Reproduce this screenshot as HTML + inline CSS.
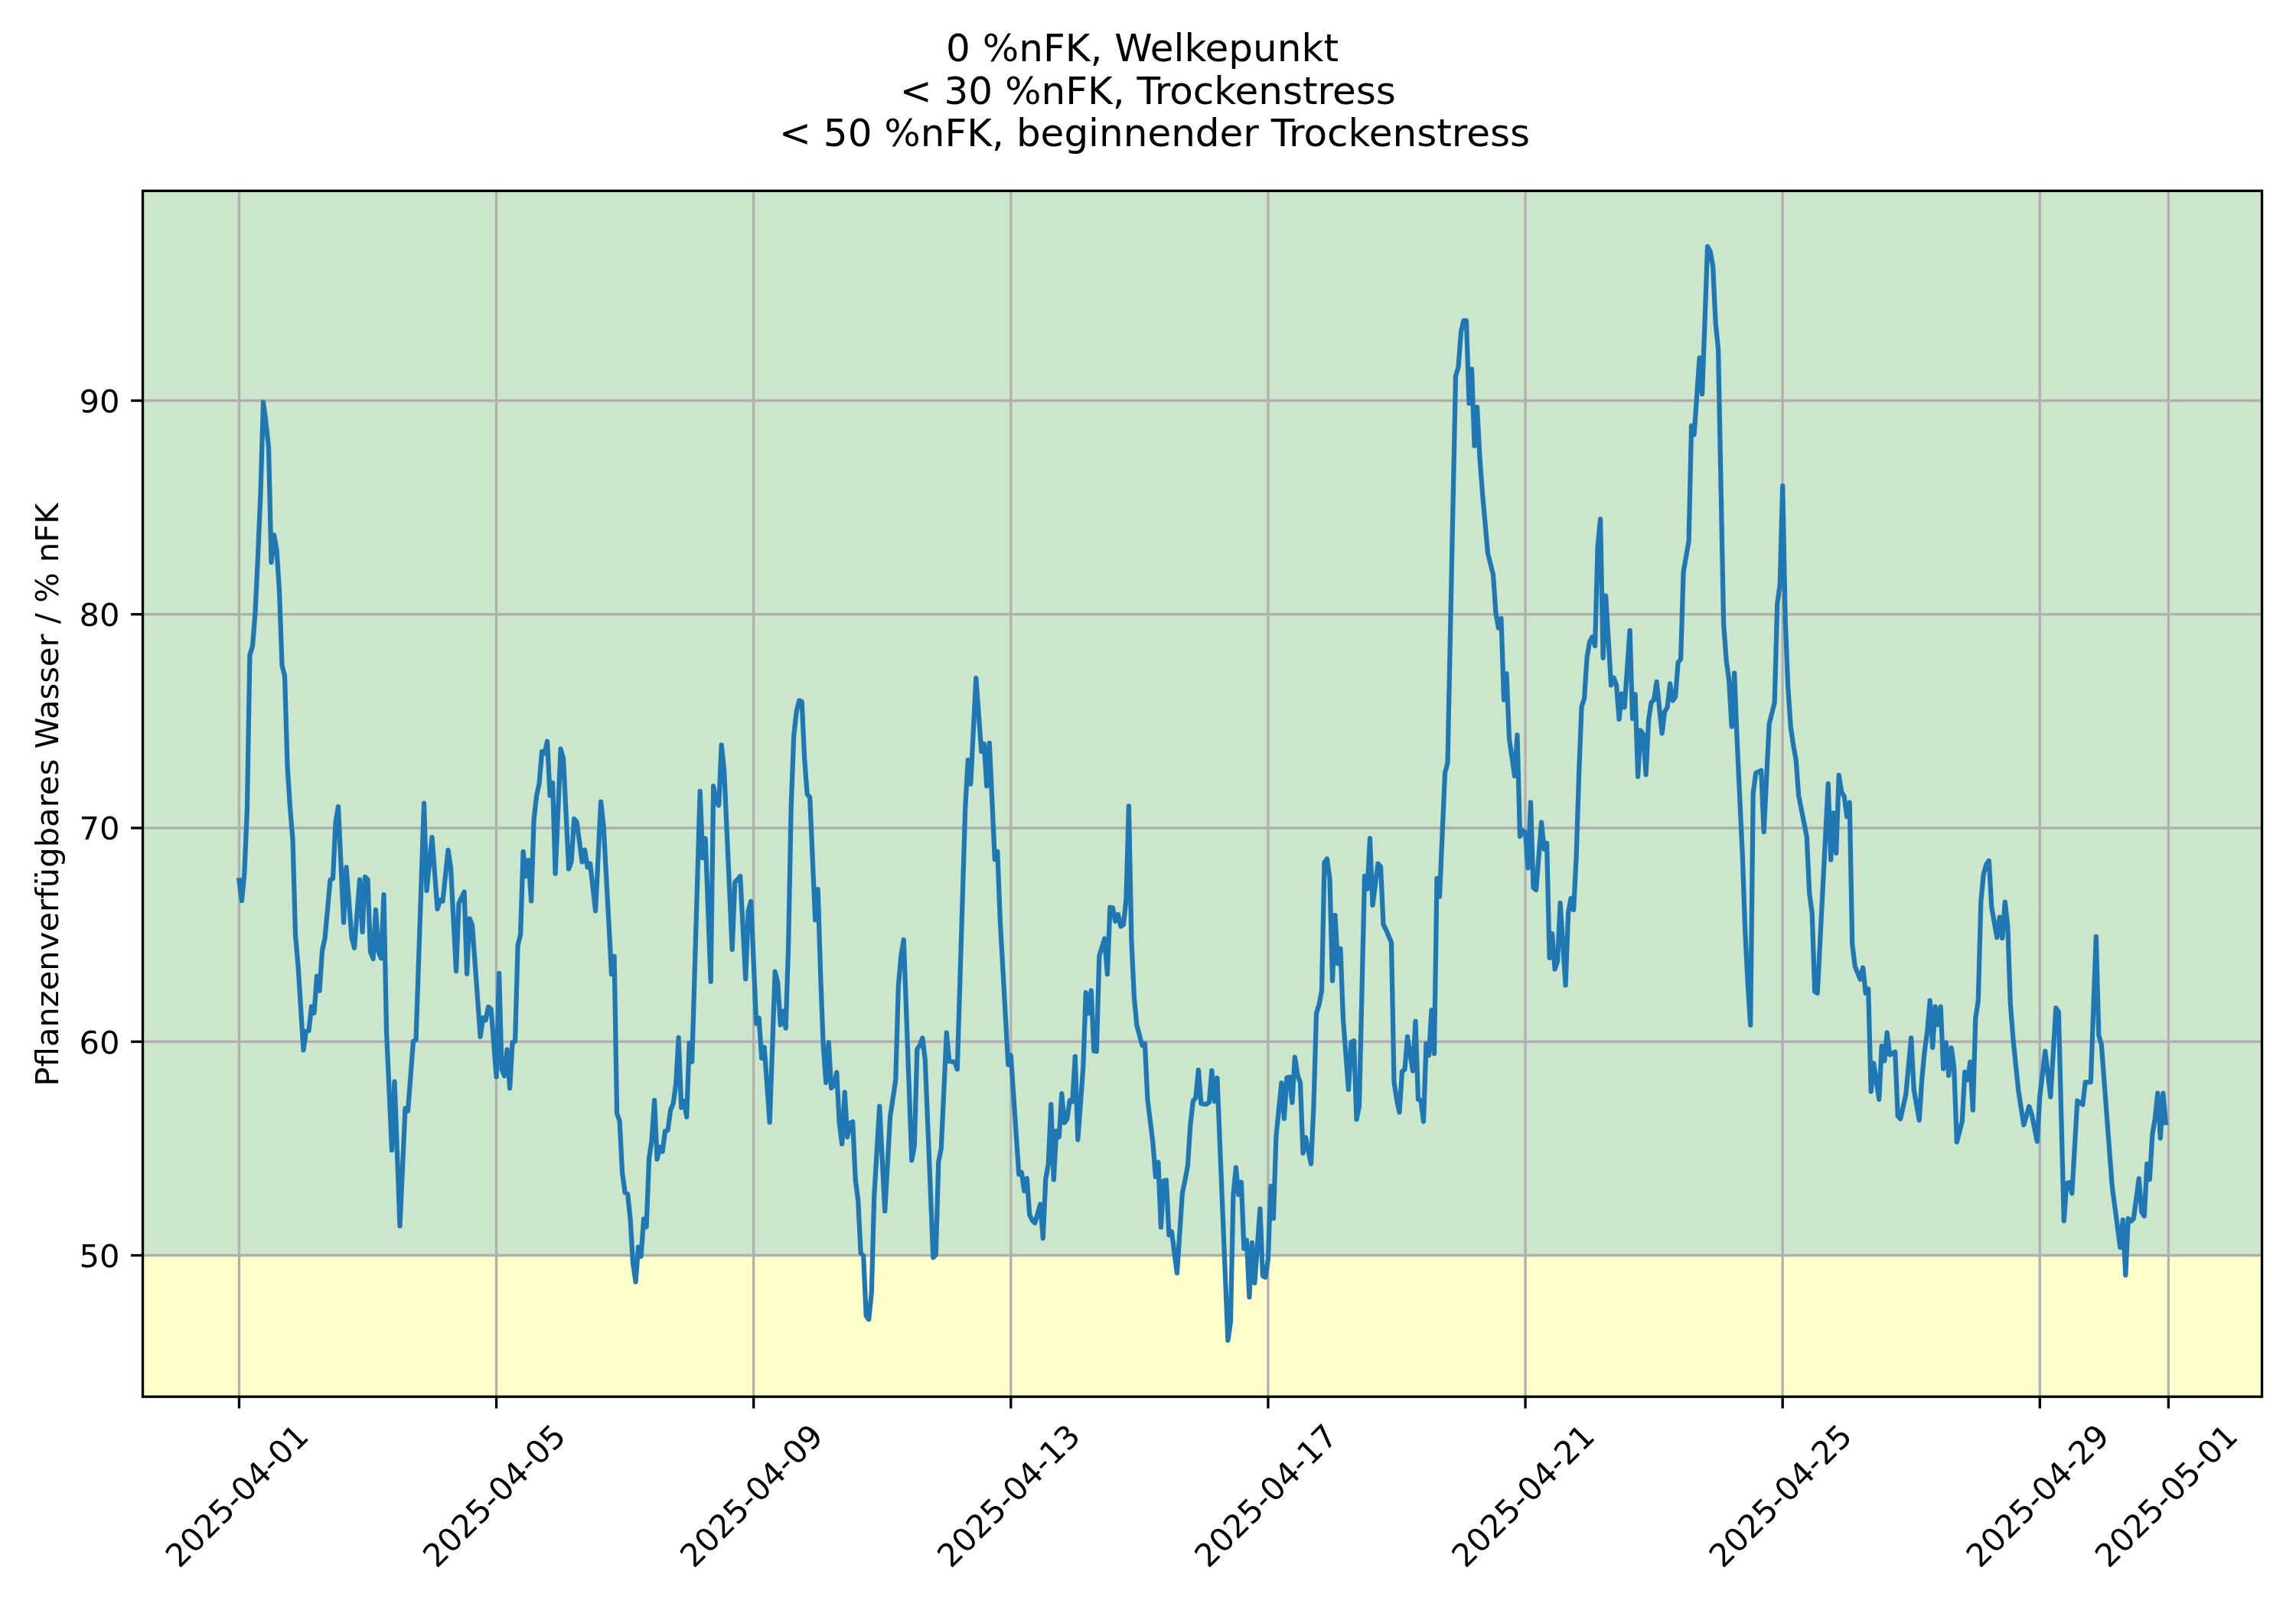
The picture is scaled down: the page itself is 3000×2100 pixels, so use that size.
<!DOCTYPE html>
<html lang="de"><head><meta charset="utf-8"><title>Pflanzenverfügbares Wasser</title>
<style>html,body{margin:0;padding:0;background:#fff;}body{width:3000px;height:2100px;overflow:hidden;}svg{display:block;will-change:transform;}text{font-family:'DejaVu Sans','Liberation Sans',sans-serif;fill:#000;}</style></head><body>
<svg width="3000" height="2100" viewBox="0 0 3000 2100">
<rect width="3000" height="2100" fill="#fff"/>
<rect x="186.50" y="249.40" width="2769.00" height="1391.10" fill="#cce6cc"/>
<rect x="186.50" y="1640.50" width="2769.00" height="184.70" fill="#ffffcc"/>
<g stroke="#b0b0b0" stroke-width="3.33" fill="none">
<line x1="312.45" y1="249.40" x2="312.45" y2="1825.20"/>
<line x1="648.57" y1="249.40" x2="648.57" y2="1825.20"/>
<line x1="984.69" y1="249.40" x2="984.69" y2="1825.20"/>
<line x1="1320.81" y1="249.40" x2="1320.81" y2="1825.20"/>
<line x1="1656.93" y1="249.40" x2="1656.93" y2="1825.20"/>
<line x1="1993.05" y1="249.40" x2="1993.05" y2="1825.20"/>
<line x1="2329.17" y1="249.40" x2="2329.17" y2="1825.20"/>
<line x1="2665.29" y1="249.40" x2="2665.29" y2="1825.20"/>
<line x1="2833.35" y1="249.40" x2="2833.35" y2="1825.20"/>
<line x1="186.50" y1="1640.50" x2="2955.50" y2="1640.50"/>
<line x1="186.50" y1="1361.25" x2="2955.50" y2="1361.25"/>
<line x1="186.50" y1="1082.00" x2="2955.50" y2="1082.00"/>
<line x1="186.50" y1="802.75" x2="2955.50" y2="802.75"/>
<line x1="186.50" y1="523.50" x2="2955.50" y2="523.50"/>
</g>
<clipPath id="c"><rect x="186.50" y="249.40" width="2769.00" height="1575.80"/></clipPath>
<path clip-path="url(#c)" d="M312.4 1150.2 L315.9 1177.0 L319.4 1141.0 L322.9 1058.0 L326.4 856.0 L330.0 844.5 L333.5 800.0 L337.0 727.0 L340.5 644.0 L344.0 525.5 L347.5 552.0 L351.0 585.0 L354.5 735.0 L358.0 699.0 L361.5 718.0 L365.0 772.0 L368.5 869.5 L372.0 883.0 L375.5 1001.0 L379.0 1055.0 L382.5 1097.0 L386.0 1221.5 L389.5 1262.0 L396.5 1372.4 L400.0 1347.6 L403.5 1346.9 L407.0 1315.4 L410.5 1323.8 L414.0 1275.7 L417.5 1294.8 L421.0 1242.2 L424.5 1226.5 L431.5 1149.8 L435.0 1148.1 L438.5 1074.9 L442.0 1054.0 L449.0 1205.6 L452.5 1133.3 L459.5 1225.1 L463.0 1238.7 L470.0 1149.5 L473.5 1217.8 L477.0 1146.0 L480.5 1149.3 L484.0 1243.9 L487.5 1253.0 L491.0 1189.0 L494.5 1243.9 L498.0 1252.3 L501.5 1169.0 L505.0 1347.1 L512.0 1503.0 L515.5 1413.3 L522.5 1602.0 L529.5 1448.5 L533.0 1451.6 L540.0 1360.5 L543.5 1359.0 L554.0 1049.7 L557.5 1163.8 L564.5 1094.1 L571.5 1187.8 L575.0 1176.3 L578.5 1177.7 L585.5 1110.8 L589.0 1134.1 L596.0 1269.2 L599.5 1180.3 L606.6 1165.5 L610.1 1272.6 L613.6 1200.3 L617.1 1209.1 L627.6 1354.9 L631.1 1330.0 L634.6 1333.2 L638.1 1315.7 L641.6 1318.7 L648.6 1407.2 L652.1 1271.8 L655.6 1397.6 L659.1 1406.0 L662.6 1371.5 L666.1 1422.0 L669.6 1361.9 L673.1 1360.7 L676.6 1235.2 L680.1 1221.3 L683.6 1112.9 L687.1 1145.1 L690.6 1124.2 L694.1 1177.4 L697.6 1071.1 L701.1 1039.7 L704.6 1023.5 L708.1 982.2 L711.6 984.3 L715.1 968.8 L718.6 1039.7 L722.1 1022.8 L725.6 1141.6 L732.6 978.7 L736.1 991.5 L743.1 1135.5 L746.6 1126.0 L750.1 1070.2 L753.6 1074.0 L760.6 1126.3 L764.1 1110.6 L767.6 1133.3 L771.1 1128.6 L778.1 1190.4 L785.1 1047.6 L788.6 1079.3 L799.1 1273.2 L802.6 1249.7 L806.1 1455.2 L809.6 1464.8 L813.1 1532.3 L816.6 1558.5 L820.1 1560.2 L823.6 1593.3 L827.1 1651.7 L830.6 1675.2 L834.1 1629.5 L837.6 1641.7 L841.1 1593.0 L844.6 1603.4 L848.1 1513.2 L851.6 1490.5 L855.1 1437.8 L858.6 1514.9 L862.1 1498.9 L865.6 1504.8 L869.1 1478.0 L872.6 1476.9 L876.1 1450.8 L879.6 1442.1 L883.1 1417.8 L886.6 1355.9 L890.2 1447.4 L893.7 1439.0 L897.2 1459.6 L900.7 1362.9 L904.2 1387.3 L914.7 1034.0 L918.2 1121.1 L921.7 1095.6 L928.7 1282.8 L932.2 1027.2 L935.7 1048.4 L939.2 1052.4 L942.7 973.5 L946.2 1007.5 L956.7 1240.9 L960.2 1153.0 L967.2 1145.1 L974.2 1279.3 L977.7 1190.4 L981.2 1177.9 L988.2 1337.6 L991.7 1330.3 L995.2 1382.9 L998.7 1368.6 L1005.7 1466.6 L1012.7 1269.7 L1016.2 1283.6 L1019.7 1339.4 L1023.2 1321.4 L1026.7 1343.7 L1030.2 1233.6 L1033.7 1054.2 L1037.2 961.9 L1040.7 929.7 L1044.2 915.4 L1047.7 916.9 L1051.2 991.5 L1054.7 1037.7 L1058.2 1042.0 L1065.2 1202.3 L1068.7 1162.2 L1072.2 1275.4 L1075.7 1366.0 L1079.2 1414.8 L1082.7 1362.2 L1086.2 1421.8 L1089.7 1418.3 L1093.2 1401.4 L1096.7 1467.5 L1100.2 1495.0 L1103.7 1427.4 L1107.2 1485.8 L1110.7 1467.5 L1114.2 1465.7 L1117.7 1541.5 L1121.2 1568.5 L1124.7 1637.4 L1128.2 1640.8 L1131.7 1719.4 L1135.2 1724.1 L1138.8 1688.9 L1142.2 1563.3 L1149.2 1445.7 L1156.2 1582.5 L1163.2 1458.8 L1170.3 1411.3 L1173.8 1289.4 L1177.3 1249.3 L1180.8 1228.0 L1184.3 1324.2 L1191.3 1516.3 L1194.8 1497.1 L1198.3 1371.3 L1201.8 1366.0 L1205.3 1356.4 L1208.8 1385.2 L1219.3 1643.4 L1222.8 1639.6 L1226.3 1518.0 L1229.8 1500.6 L1236.8 1349.5 L1240.3 1386.9 L1247.3 1387.8 L1250.8 1397.4 L1261.3 1054.2 L1264.8 993.2 L1268.3 1024.6 L1275.3 886.1 L1282.3 981.9 L1285.8 972.0 L1289.3 1027.2 L1292.8 970.9 L1299.8 1123.0 L1303.3 1112.6 L1306.8 1202.3 L1317.3 1391.3 L1320.8 1379.1 L1331.3 1534.6 L1334.8 1532.0 L1338.3 1556.3 L1341.8 1539.8 L1345.3 1587.7 L1348.8 1594.7 L1352.3 1598.2 L1359.3 1573.8 L1362.8 1618.2 L1366.3 1540.7 L1369.8 1521.5 L1373.3 1443.1 L1376.8 1541.5 L1380.3 1477.9 L1383.8 1485.8 L1387.3 1429.2 L1390.8 1467.1 L1394.3 1462.3 L1397.8 1437.9 L1401.3 1439.6 L1404.8 1380.7 L1408.3 1489.3 L1411.8 1443.1 L1415.3 1393.9 L1418.8 1297.0 L1422.3 1324.2 L1425.8 1294.4 L1429.3 1373.3 L1432.8 1373.9 L1436.3 1249.3 L1443.3 1226.5 L1446.9 1273.0 L1450.4 1185.7 L1453.9 1186.4 L1457.4 1204.0 L1460.9 1194.9 L1464.4 1210.6 L1467.9 1208.4 L1471.4 1176.1 L1474.9 1053.3 L1478.4 1228.4 L1481.9 1303.3 L1485.4 1339.9 L1492.4 1366.0 L1495.9 1363.9 L1499.4 1436.1 L1506.4 1493.6 L1509.9 1537.7 L1513.4 1518.7 L1516.9 1603.7 L1520.4 1543.3 L1523.9 1542.1 L1527.4 1613.8 L1530.9 1609.5 L1537.9 1663.7 L1544.9 1559.0 L1548.4 1542.4 L1551.9 1523.2 L1555.4 1469.2 L1558.9 1438.7 L1562.4 1434.4 L1565.9 1398.1 L1569.4 1442.2 L1576.4 1443.1 L1579.9 1440.5 L1583.4 1399.0 L1586.9 1439.3 L1590.4 1408.5 L1604.4 1751.6 L1607.9 1727.2 L1611.4 1561.6 L1614.9 1525.7 L1618.4 1561.2 L1621.9 1544.8 L1625.4 1631.6 L1628.9 1620.5 L1632.4 1695.0 L1635.9 1623.9 L1639.4 1676.6 L1646.4 1579.7 L1649.9 1667.5 L1653.4 1669.2 L1656.9 1645.2 L1660.4 1550.1 L1663.9 1592.2 L1667.4 1484.9 L1674.4 1415.2 L1677.9 1461.7 L1681.4 1408.2 L1684.9 1407.5 L1688.4 1440.8 L1691.9 1381.5 L1695.4 1404.4 L1699.0 1414.8 L1702.5 1507.0 L1706.0 1486.3 L1713.0 1521.0 L1716.5 1444.8 L1720.0 1324.2 L1723.5 1312.9 L1727.0 1294.6 L1730.5 1127.0 L1734.0 1122.2 L1737.5 1148.3 L1741.0 1281.7 L1744.5 1196.0 L1748.0 1259.1 L1751.5 1239.5 L1755.0 1332.3 L1762.0 1423.7 L1765.5 1361.9 L1769.0 1360.0 L1772.5 1462.9 L1776.0 1445.5 L1779.5 1296.0 L1783.0 1144.8 L1786.5 1161.9 L1790.0 1095.5 L1793.5 1183.0 L1800.5 1128.6 L1804.0 1132.3 L1807.5 1208.0 L1811.0 1215.0 L1818.0 1231.6 L1821.5 1414.1 L1825.0 1436.8 L1828.5 1453.5 L1832.0 1400.2 L1835.5 1397.6 L1839.0 1354.7 L1846.0 1399.5 L1849.5 1334.7 L1853.0 1436.8 L1856.5 1437.7 L1860.0 1465.7 L1863.5 1363.6 L1867.0 1379.3 L1870.5 1319.9 L1874.0 1376.9 L1877.5 1147.9 L1881.0 1171.6 L1888.0 1010.3 L1891.5 996.8 L1902.0 491.3 L1905.5 479.9 L1909.0 433.8 L1912.5 418.8 L1916.0 419.0 L1919.5 527.1 L1923.0 482.4 L1926.5 582.7 L1930.0 532.0 L1933.5 597.5 L1937.0 644.5 L1944.0 722.9 L1951.0 750.8 L1954.5 801.3 L1958.0 820.6 L1961.5 808.1 L1965.0 914.7 L1968.5 880.4 L1972.0 965.1 L1979.0 1014.0 L1982.5 960.5 L1986.0 1093.1 L1989.5 1085.2 L1993.0 1087.8 L1996.5 1134.2 L2000.0 1048.5 L2003.5 1160.1 L2007.1 1162.9 L2014.1 1074.6 L2017.6 1109.6 L2021.1 1101.8 L2024.6 1251.8 L2028.1 1220.1 L2031.6 1266.6 L2035.1 1256.0 L2038.6 1180.0 L2045.6 1287.5 L2049.1 1193.2 L2052.6 1173.9 L2056.1 1189.1 L2059.6 1120.1 L2063.1 1010.3 L2066.6 923.2 L2070.1 912.8 L2073.6 858.8 L2077.1 838.7 L2080.6 832.3 L2084.1 844.1 L2087.6 714.2 L2091.1 678.3 L2094.6 859.8 L2098.1 778.5 L2105.1 895.5 L2108.6 885.6 L2112.1 895.4 L2115.6 940.0 L2119.1 906.5 L2122.6 924.3 L2129.6 823.8 L2133.1 939.1 L2136.6 907.4 L2140.1 1014.9 L2143.6 954.4 L2147.1 959.8 L2150.6 1012.3 L2154.1 940.7 L2157.6 918.0 L2161.1 914.5 L2164.6 890.8 L2171.6 958.3 L2175.1 930.2 L2178.6 924.1 L2182.1 893.4 L2185.6 915.6 L2189.1 910.7 L2192.6 865.7 L2196.1 861.4 L2199.6 747.3 L2206.6 707.2 L2210.1 556.4 L2213.6 568.0 L2220.6 467.6 L2224.1 514.9 L2231.1 322.1 L2234.6 328.4 L2238.1 347.5 L2241.6 421.6 L2245.1 456.4 L2248.6 636.0 L2252.1 815.0 L2255.6 862.3 L2259.1 888.4 L2262.7 949.5 L2266.2 879.5 L2269.7 967.8 L2273.2 1042.0 L2276.7 1117.0 L2280.2 1216.0 L2283.7 1285.0 L2287.2 1339.6 L2290.7 1036.5 L2294.2 1010.3 L2301.2 1006.7 L2304.7 1087.0 L2311.7 945.9 L2318.7 918.0 L2322.2 789.1 L2325.7 764.7 L2329.2 634.8 L2332.7 810.0 L2336.2 897.1 L2339.7 949.4 L2343.2 973.8 L2346.7 992.9 L2350.2 1040.0 L2360.7 1093.1 L2364.2 1167.1 L2367.7 1193.2 L2371.2 1296.0 L2374.7 1297.8 L2388.7 1024.1 L2392.2 1123.6 L2395.7 1062.4 L2399.2 1114.8 L2402.7 1012.8 L2406.2 1034.7 L2409.7 1040.8 L2413.2 1067.1 L2416.7 1048.5 L2420.2 1233.3 L2423.7 1262.9 L2430.7 1279.7 L2434.2 1264.5 L2437.7 1297.9 L2441.2 1292.4 L2444.7 1426.3 L2448.2 1389.4 L2455.2 1436.8 L2458.7 1366.8 L2462.2 1386.3 L2465.7 1349.3 L2469.2 1378.4 L2472.7 1376.5 L2476.2 1374.6 L2479.7 1458.4 L2483.2 1462.1 L2490.2 1430.5 L2497.2 1356.3 L2500.7 1423.6 L2507.7 1463.8 L2511.2 1410.5 L2514.7 1373.9 L2518.2 1347.8 L2521.7 1307.5 L2525.2 1368.9 L2528.7 1315.4 L2532.2 1339.2 L2535.7 1315.4 L2539.2 1396.7 L2542.8 1362.4 L2546.2 1405.4 L2549.8 1369.4 L2553.2 1395.7 L2556.8 1492.5 L2563.8 1465.4 L2567.3 1400.9 L2570.8 1411.4 L2574.3 1387.7 L2577.8 1450.7 L2581.3 1330.3 L2584.8 1307.7 L2588.3 1178.0 L2591.8 1142.0 L2595.3 1129.5 L2598.8 1124.7 L2602.3 1185.7 L2609.3 1225.1 L2612.8 1198.6 L2616.3 1226.0 L2619.8 1178.6 L2623.3 1210.1 L2626.8 1311.2 L2630.3 1356.5 L2637.3 1425.3 L2644.3 1469.9 L2651.3 1446.0 L2654.8 1456.7 L2661.8 1491.7 L2665.3 1432.3 L2672.3 1373.7 L2679.3 1433.3 L2686.3 1317.1 L2689.8 1322.5 L2696.8 1595.3 L2700.3 1546.4 L2703.8 1545.3 L2707.3 1559.6 L2714.3 1438.4 L2721.3 1443.6 L2724.8 1414.0 L2731.8 1414.0 L2738.8 1223.9 L2742.3 1353.0 L2745.8 1365.2 L2759.8 1550.7 L2770.3 1630.2 L2773.8 1594.1 L2777.3 1666.4 L2780.8 1592.4 L2784.3 1596.0 L2787.8 1592.5 L2794.8 1540.1 L2798.3 1583.8 L2801.8 1589.2 L2805.3 1520.9 L2808.8 1541.3 L2812.3 1482.8 L2815.8 1461.9 L2819.3 1428.6 L2822.8 1487.3 L2826.3 1428.6 L2829.8 1467.1" fill="none" stroke="#1f77b4" stroke-width="6.25" stroke-linejoin="round" stroke-linecap="square"/>
<g stroke="#000" stroke-width="3.33" fill="none">
<line x1="312.45" y1="1825.20" x2="312.45" y2="1840.50"/>
<line x1="648.57" y1="1825.20" x2="648.57" y2="1840.50"/>
<line x1="984.69" y1="1825.20" x2="984.69" y2="1840.50"/>
<line x1="1320.81" y1="1825.20" x2="1320.81" y2="1840.50"/>
<line x1="1656.93" y1="1825.20" x2="1656.93" y2="1840.50"/>
<line x1="1993.05" y1="1825.20" x2="1993.05" y2="1840.50"/>
<line x1="2329.17" y1="1825.20" x2="2329.17" y2="1840.50"/>
<line x1="2665.29" y1="1825.20" x2="2665.29" y2="1840.50"/>
<line x1="2833.35" y1="1825.20" x2="2833.35" y2="1840.50"/>
<line x1="171.10" y1="1640.50" x2="186.50" y2="1640.50"/>
<line x1="171.10" y1="1361.25" x2="186.50" y2="1361.25"/>
<line x1="171.10" y1="1082.00" x2="186.50" y2="1082.00"/>
<line x1="171.10" y1="802.75" x2="186.50" y2="802.75"/>
<line x1="171.10" y1="523.50" x2="186.50" y2="523.50"/>
</g>
<rect x="186.50" y="249.40" width="2769.00" height="1575.80" fill="none" stroke="#000" stroke-width="3.33" stroke-linejoin="miter"/>
<text x="156.50" y="1655.80" font-size="41.67" text-anchor="end">50</text>
<text x="156.50" y="1376.55" font-size="41.67" text-anchor="end">60</text>
<text x="156.50" y="1097.30" font-size="41.67" text-anchor="end">70</text>
<text x="156.50" y="818.05" font-size="41.67" text-anchor="end">80</text>
<text x="156.50" y="538.80" font-size="41.67" text-anchor="end">90</text>
<text transform="translate(405.45 1879.30) rotate(-45)" font-size="41.67" text-anchor="end">2025-04-01</text>
<text transform="translate(741.57 1879.30) rotate(-45)" font-size="41.67" text-anchor="end">2025-04-05</text>
<text transform="translate(1077.69 1879.30) rotate(-45)" font-size="41.67" text-anchor="end">2025-04-09</text>
<text transform="translate(1413.81 1879.30) rotate(-45)" font-size="41.67" text-anchor="end">2025-04-13</text>
<text transform="translate(1749.93 1879.30) rotate(-45)" font-size="41.67" text-anchor="end">2025-04-17</text>
<text transform="translate(2086.05 1879.30) rotate(-45)" font-size="41.67" text-anchor="end">2025-04-21</text>
<text transform="translate(2422.17 1879.30) rotate(-45)" font-size="41.67" text-anchor="end">2025-04-25</text>
<text transform="translate(2758.29 1879.30) rotate(-45)" font-size="41.67" text-anchor="end">2025-04-29</text>
<text transform="translate(2926.35 1879.30) rotate(-45)" font-size="41.67" text-anchor="end">2025-05-01</text>
<text transform="translate(76.00 1038.40) rotate(-90)" font-size="41.67" text-anchor="middle">Pflanzenverfügbares Wasser / % nFK</text>
<text x="1492.50" y="80.10" font-size="50" text-anchor="middle">0 %nFK, Welkepunkt</text>
<text x="1499.80" y="136.40" font-size="50" text-anchor="middle">&lt; 30 %nFK, Trockenstress</text>
<text x="1508.60" y="190.70" font-size="50" text-anchor="middle">&lt; 50 %nFK, beginnender Trockenstress</text>
</svg></body></html>
